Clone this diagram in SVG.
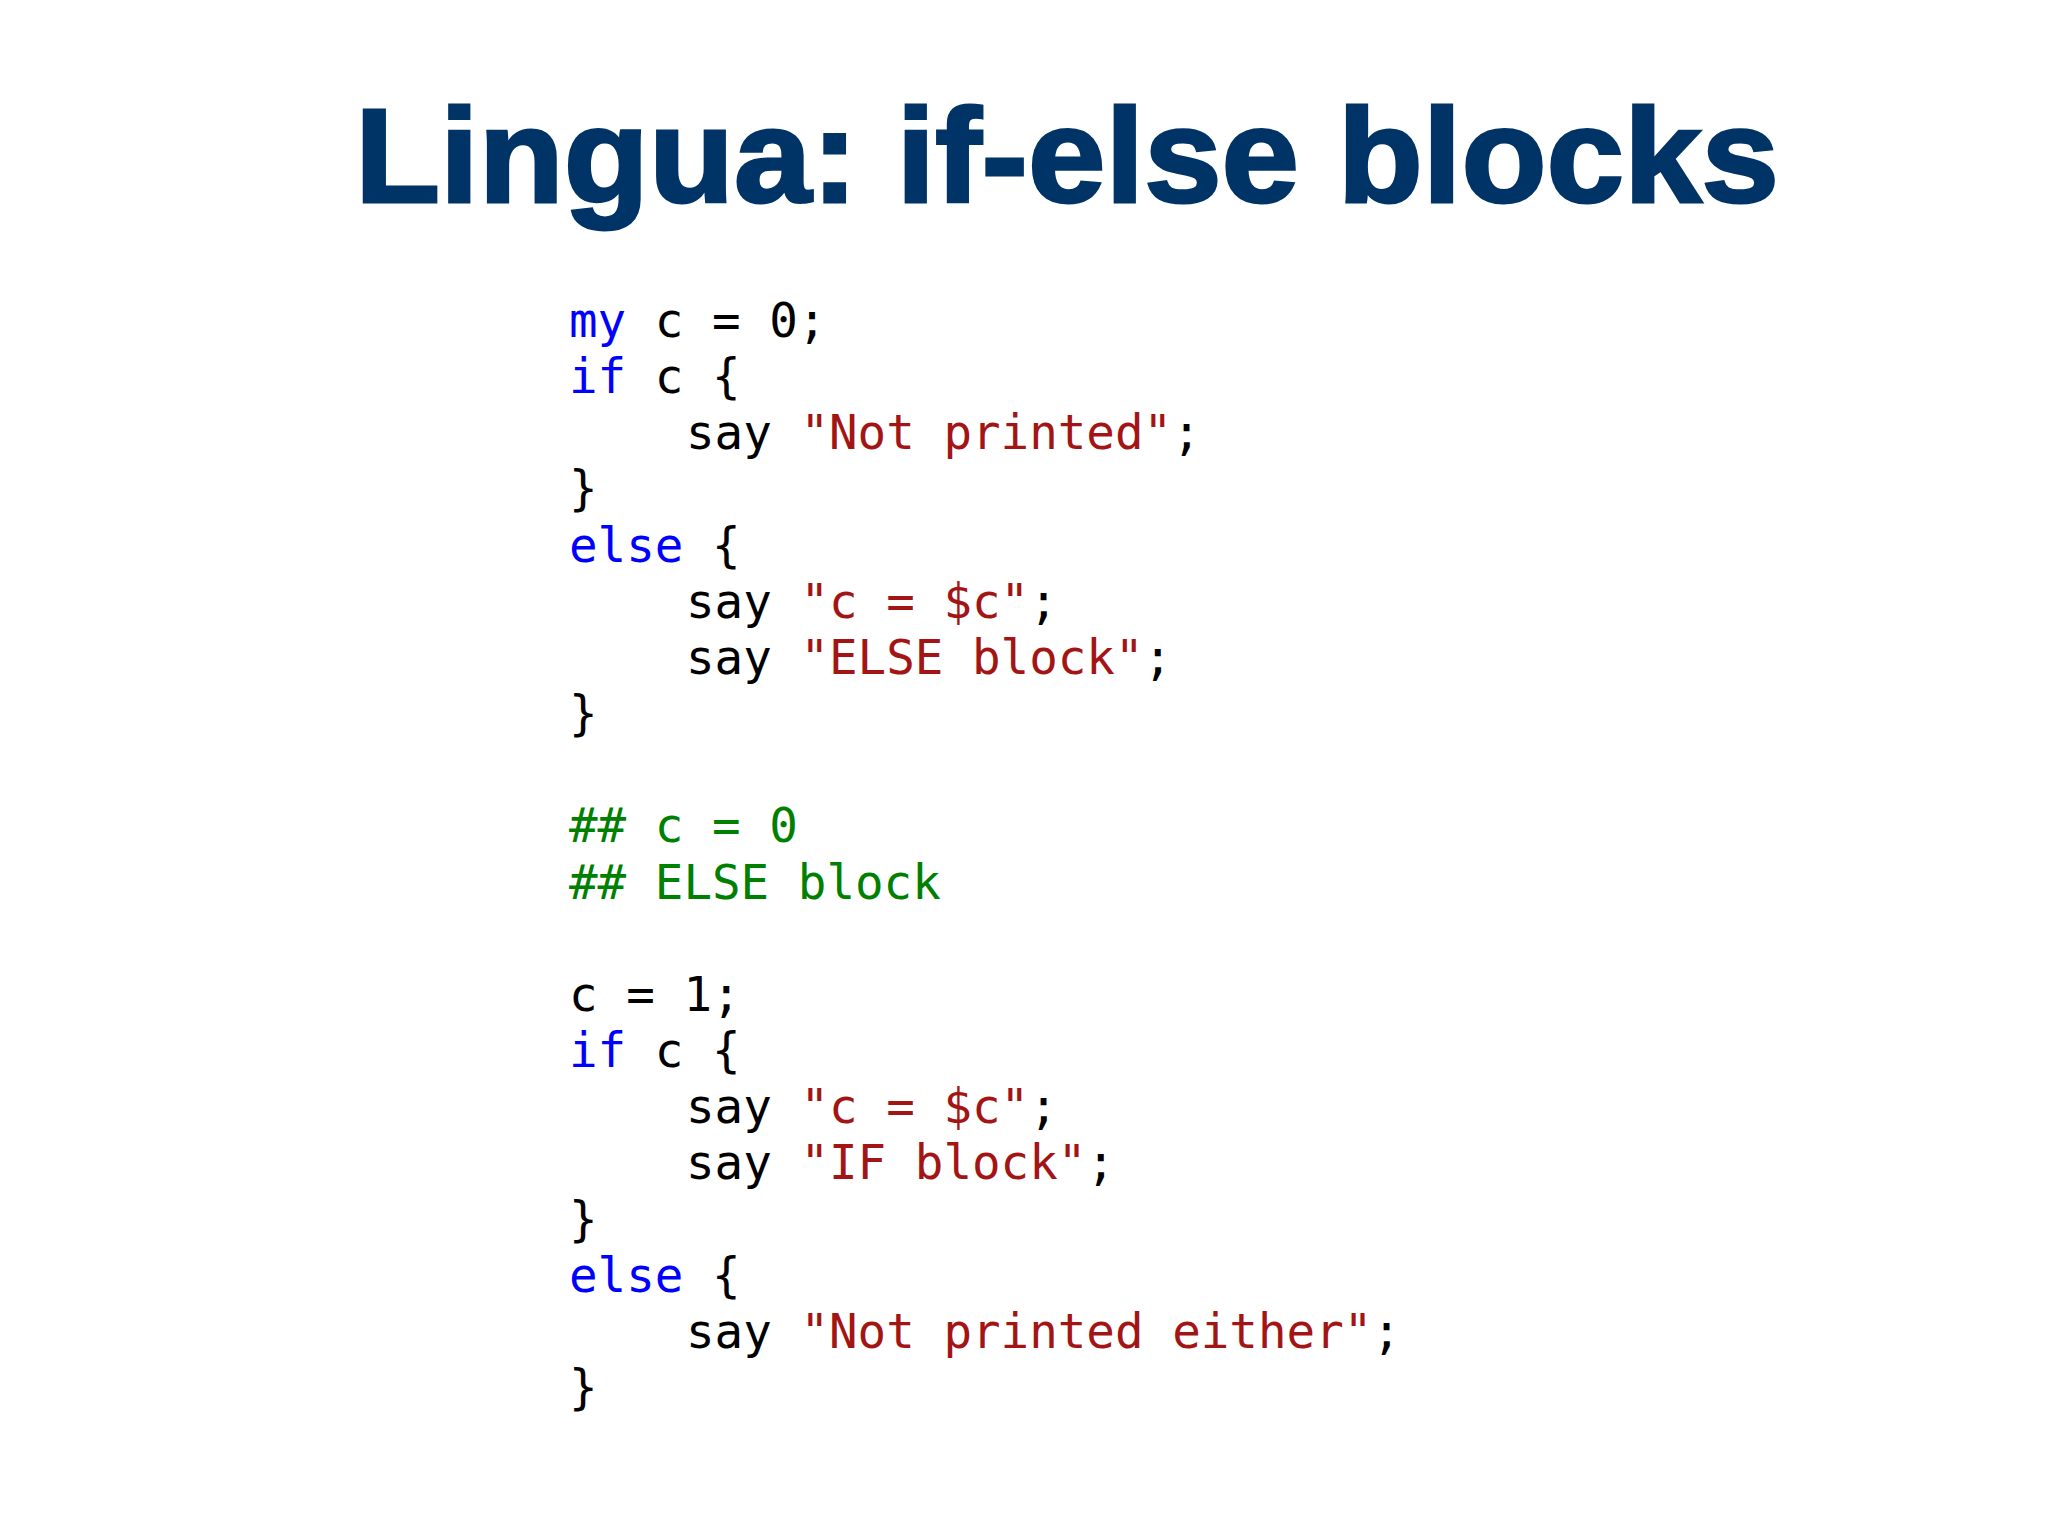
<svg xmlns="http://www.w3.org/2000/svg" width="2048" height="1536" viewBox="0 0 2048 1536">
<style>
.t{font-family:"Liberation Sans",Arial,sans-serif;font-weight:900;font-size:134px;fill:#003366}
.c{font-family:"DejaVu Sans Mono",monospace;font-size:47.5px;fill:#000}
.k{fill:#0000ff}.s{fill:#a31515}.g{fill:#008000}
</style>
<rect width="2048" height="1536" fill="#fff"/>
<g id="title"><text class="t" x="355" y="202" textLength="1424" lengthAdjust="spacingAndGlyphs" stroke="#003366" stroke-width="3">Lingua: if-else blocks</text></g>
<g id="code" class="c">
<text x="569" y="337"><tspan class="k">my</tspan> c = 0;</text>
<text x="569" y="393"><tspan class="k">if</tspan> c {</text>
<text x="686" y="449">say <tspan class="s">"Not printed"</tspan>;</text>
<text x="569" y="505">}</text>
<text x="569" y="562"><tspan class="k">else</tspan> {</text>
<text x="686" y="618">say <tspan class="s">"c = $c"</tspan>;</text>
<text x="686" y="674">say <tspan class="s">"ELSE block"</tspan>;</text>
<text x="569" y="730">}</text>
<text x="569" y="842" class="g">## c = 0</text>
<text x="569" y="899" class="g">## ELSE block</text>
<text x="569" y="1011">c = 1;</text>
<text x="569" y="1067"><tspan class="k">if</tspan> c {</text>
<text x="686" y="1123">say <tspan class="s">"c = $c"</tspan>;</text>
<text x="686" y="1179">say <tspan class="s">"IF block"</tspan>;</text>
<text x="569" y="1236">}</text>
<text x="569" y="1292"><tspan class="k">else</tspan> {</text>
<text x="686" y="1348">say <tspan class="s">"Not printed either"</tspan>;</text>
<text x="569" y="1404">}</text>
</g>
</svg>
